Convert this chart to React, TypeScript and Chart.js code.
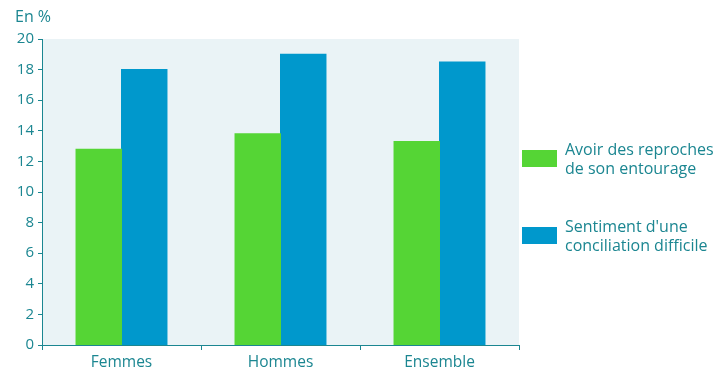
import React, { useEffect, useRef } from "react";
import { Chart, registerables } from "chart.js";

Chart.register(...registerables);

const categories = ["Femmes", "Hommes", "Ensemble"];
const seriesLabels = [
  ["Avoir des reproches", "de son entourage"],
  ["Sentiment d'une", "conciliation difficile"],
];
const reproches = [12.8, 13.8, 13.3];
const conciliation = [18.0, 19.0, 18.5];
const yTicks = [0, 2, 4, 6, 8, 10, 12, 14, 16, 18, 20];
const unitLabel = "En %";

const TEAL = "#1b8691";
const GREEN = "#55d535";
const BLUE = "#0098cc";
const FONT = "'Open Sans', 'Noto Sans', sans-serif";

const decorPlugin = {
  id: "decor",
  beforeDraw(chart: any) {
    const { ctx, chartArea } = chart;
    ctx.save();
    ctx.fillStyle = "#eaf3f6";
    ctx.fillRect(chartArea.left, chartArea.top, chartArea.right - chartArea.left, chartArea.bottom - chartArea.top);
    ctx.restore();
  },
  afterDraw(chart: any) {
    const { ctx, chartArea } = chart;
    ctx.save();
    ctx.fillStyle = TEAL;
    ctx.font = `16px ${FONT}`;
    ctx.textBaseline = "alphabetic";
    ctx.textAlign = "left";
    ctx.fillText(unitLabel, 15, 22);
    const ys = [158, 235];
    chart.data.datasets.forEach((ds: any, i: number) => {
      const y = ys[i];
      ctx.fillStyle = ds.backgroundColor;
      ctx.fillRect(chartArea.right + 3, y - 8, 35, 17);
      ctx.fillStyle = TEAL;
      ctx.font = `16px ${FONT}`;
      const lines = seriesLabels[i];
      lines.forEach((l: string, j: number) => {
        ctx.fillText(l, chartArea.right + 46, y - 3 + j * 19);
      });
    });
    ctx.restore();
  },
};

export default function App() {
  const ref = useRef<HTMLCanvasElement>(null);
  useEffect(() => {
    document.body.style.margin = "0";
    const chart = new Chart(ref.current!, {
      type: "bar",
      data: {
        labels: categories,
        datasets: [
          { label: seriesLabels[0].join(" "), data: reproches, backgroundColor: GREEN, categoryPercentage: 0.572, barPercentage: 1, inflateAmount: 0.5, borderWidth: 0 },
          { label: seriesLabels[1].join(" "), data: conciliation, backgroundColor: BLUE, categoryPercentage: 0.572, barPercentage: 1, inflateAmount: 0.5, borderWidth: 0 },
        ],
      },
      options: {
        animation: false,
        responsive: false,
        maintainAspectRatio: false,
        layout: { padding: { left: 0, right: 194, top: 39, bottom: 0 } },
        plugins: { legend: { display: false }, tooltip: { enabled: false }, title: { display: false } },
        scales: {
          x: {
            grid: { offset: true, drawOnChartArea: false, drawTicks: true, tickLength: 5, color: TEAL, lineWidth: 1 },
            border: { display: true, color: TEAL, width: 1 },
            ticks: { color: TEAL, font: { family: FONT, size: 15.5 }, padding: 3 },
            afterFit: (s: any) => { s.height = 26; },
          },
          y: {
            min: 0,
            max: 20,
            afterBuildTicks: (s: any) => { s.ticks = yTicks.map((v) => ({ value: v })); },
            grid: { drawOnChartArea: false, drawTicks: true, tickLength: 4, color: TEAL, lineWidth: 1 },
            border: { display: true, color: TEAL, width: 1 },
            ticks: { color: TEAL, font: { family: FONT, size: 15 }, padding: 4 },
            afterFit: (s: any) => { s.width = 42; },
          },
        },
      },
      plugins: [decorPlugin],
    });
    return () => chart.destroy();
  }, []);
  return (
    <div style={{ position: "absolute", left: 0, top: 0, width: 713, height: 371 }}>
      <canvas ref={ref} width={713} height={371} style={{ width: 713, height: 371 }} />
    </div>
  );
}
